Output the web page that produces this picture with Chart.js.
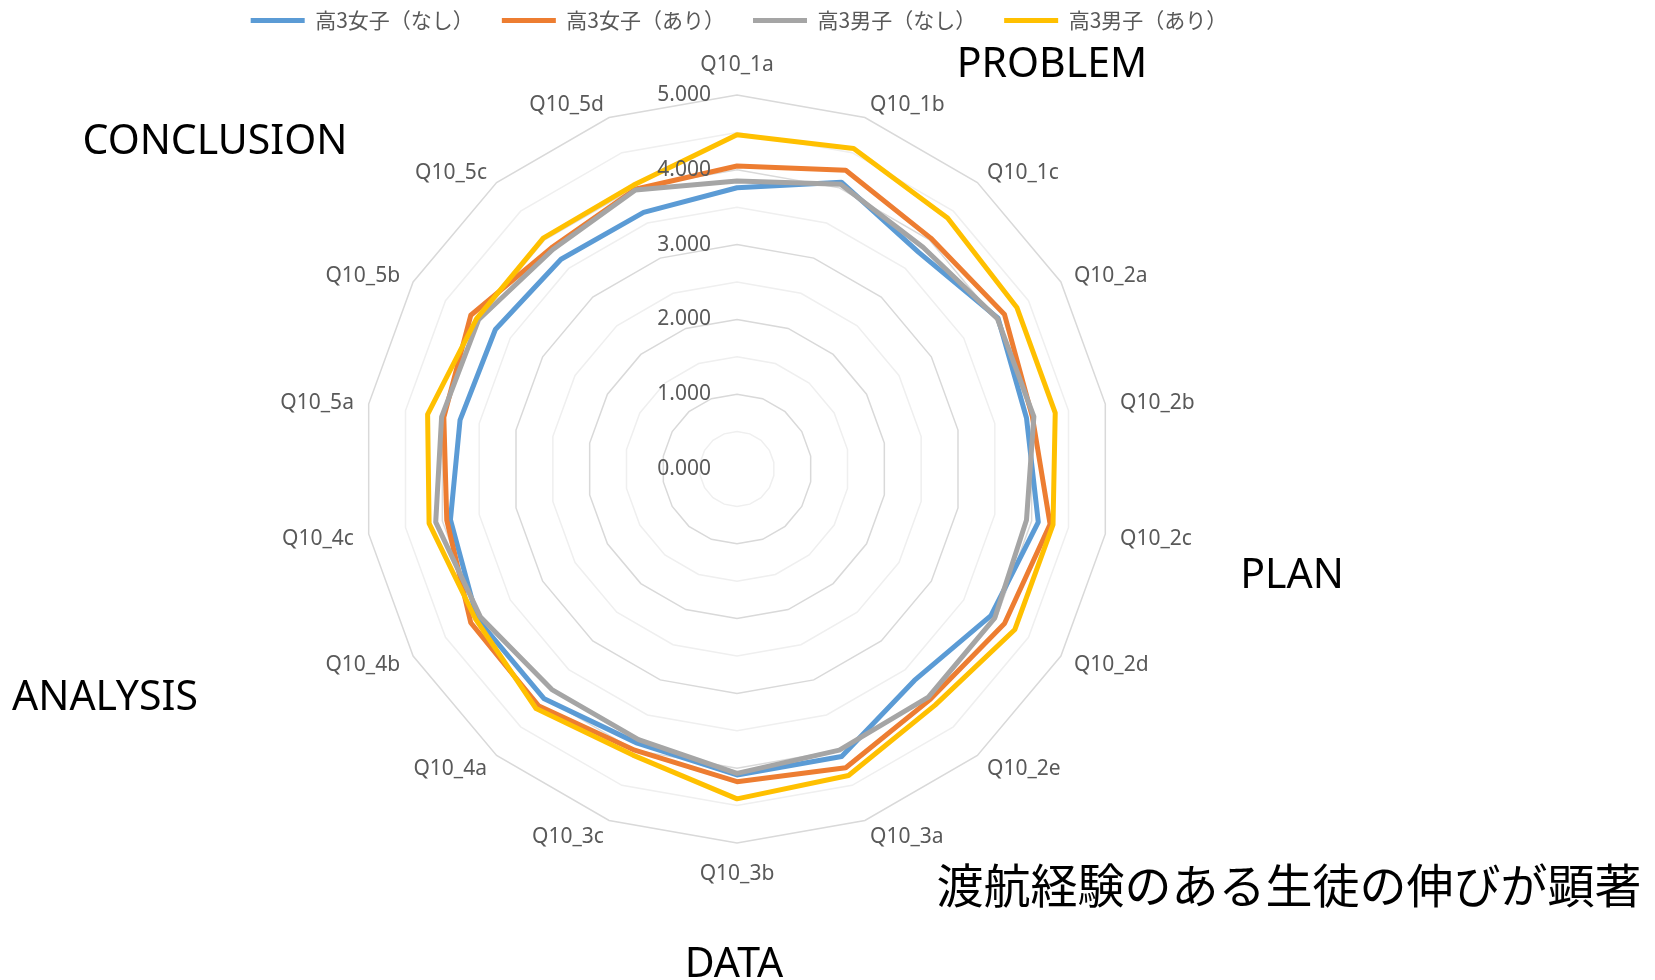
<!DOCTYPE html>
<html lang="ja">
<head>
<meta charset="utf-8">
<title>Q10 レーダーチャート</title>
<script src="https://cdn.jsdelivr.net/npm/chart.js@4.4.1/dist/chart.umd.min.js"></script>
<style>
  html, body { margin: 0; padding: 0; background: #fff; }
  #wrap { width: 1655px; height: 980px; }
</style>
</head>
<body>
<div id="wrap"><canvas id="radarChart" width="1655" height="980"></canvas></div>
<script>
// Eixos (18 perguntas)
const questionLabels = ['Q10_1a', 'Q10_1b', 'Q10_1c', 'Q10_2a', 'Q10_2b', 'Q10_2c', 'Q10_2d', 'Q10_2e',
  'Q10_3a', 'Q10_3b', 'Q10_3c', 'Q10_4a', 'Q10_4b', 'Q10_4c', 'Q10_5a', 'Q10_5b', 'Q10_5c', 'Q10_5d'];

// Valores
const girlsNone   = [3.76, 4.08, 3.78, 4.03, 3.93, 4.09, 3.92, 3.69, 4.09, 4.09, 3.90, 4.01, 4.01, 3.89, 3.76, 3.73, 3.66, 3.65];
const girlsAbroad = [4.05, 4.25, 4.03, 4.13, 4.01, 4.25, 4.13, 4.02, 4.25, 4.18, 4.00, 4.13, 4.11, 3.94, 3.98, 4.11, 3.86, 3.98];
const boysNone    = [3.85, 4.05, 3.87, 4.02, 4.03, 3.93, 3.98, 3.98, 4.00, 4.07, 3.85, 3.85, 3.96, 4.09, 4.01, 3.99, 3.83, 3.97];
const boysAbroad  = [4.47, 4.56, 4.38, 4.32, 4.32, 4.29, 4.29, 4.12, 4.36, 4.41, 4.07, 4.18, 4.03, 4.18, 4.20, 4.02, 4.03, 4.04];

const seriesNames = ['高3女子（なし）', '高3女子（あり）', '高3男子（なし）', '高3男子（あり）'];
const tickValues = [0, 1, 2, 3, 4, 5];

// Textos soltos sobre o gráfico
const stageNotes = ['PROBLEM', 'PLAN', 'DATA', 'ANALYSIS', 'CONCLUSION'];
const summaryNote = '渡航経験のある生徒の伸びが顕著';

const seriesColors = ['#5B9BD5', '#ED7D31', '#A5A5A5', '#FFC000'];
const seriesData = [girlsNone, girlsAbroad, boysNone, boysAbroad];

// Rótulos do eixo e das perguntas, desenhados pela escala
const radarText = {
    id: 'radarText',
    afterDatasetsDraw(chart) {
        const scale = chart.scales.r;
        const ctx = chart.ctx;
        ctx.save();
        ctx.fillStyle = '#595959';
        ctx.font = '21px "Noto Sans"';
        ctx.textBaseline = 'middle';
        ctx.textAlign = 'right';
        tickValues.forEach(v => {
            const y = scale.yCenter - scale.getDistanceFromCenterForValue(v);
            ctx.fillText(v.toFixed(3), scale.xCenter - 26, y);
        });
        questionLabels.forEach((lab, i) => {
            const angle = i * 360 / questionLabels.length;
            let pad = 15;
            let align = angle < 180 ? 'left' : 'right';
            if (angle === 0) { pad = 30; align = 'center'; }
            if (angle === 180) { pad = 31; align = 'center'; }
            const p = scale.getPointPosition(i, scale.drawingArea + pad);
            ctx.textAlign = align;
            ctx.fillText(lab, p.x, p.y + (align === 'center' ? 0 : 2));
        });
        ctx.restore();
    },
    afterDraw(chart) {
        const ctx = chart.ctx;
        const spots = [[1052, 65], [1292, 576], [734, 965], [105, 698], [215, 142]];
        ctx.save();
        ctx.fillStyle = '#000';
        ctx.textAlign = 'center';
        ctx.textBaseline = 'middle';
        ctx.font = '41px "Noto Sans"';
        stageNotes.forEach((t, i) => ctx.fillText(t, spots[i][0], spots[i][1]));
        ctx.font = '47px "Noto Sans CJK JP"';
        ctx.fillText(summaryNote, 1289, 885);
        ctx.restore();
    }
};

const ctx = document.getElementById('radarChart');
new Chart(ctx, {
    type: 'radar',
    data: {
        labels: questionLabels,
        datasets: seriesNames.map((name, i) => ({
            label: name,
            data: seriesData[i],
            borderColor: seriesColors[i],
            backgroundColor: seriesColors[i],
            borderWidth: 5,
            borderJoinStyle: 'round',
            pointRadius: 0,
            pointHoverRadius: 0,
            fill: false,
            order: seriesNames.length - i // o último fica por cima, como no Excel
        }))
    },
    options: {
        responsive: false,
        animation: false,
        layout: { padding: { top: -18, left: 0, right: 177, bottom: 0 } },
        scales: {
            r: {
                min: 0,
                max: 5,
                ticks: { stepSize: 0.5, display: false },
                grid: {
                    circular: false,
                    lineWidth: 1.5,
                    color: c => (c.tick && Number.isInteger(c.tick.value)) ? '#d9d9d9' : '#efefef'
                },
                angleLines: { display: false },
                pointLabels: { display: false },
                afterFit: scale => {
                    // centro e raio iguais aos da figura original
                    scale.xCenter = 737;
                    scale.yCenter = 469;
                    scale.drawingArea = 374;
                }
            }
        },
        plugins: {
            legend: {
                position: 'top',
                labels: {
                    boxWidth: 54,
                    boxHeight: 5,
                    padding: 28,
                    color: '#595959',
                    font: { family: '"Noto Sans CJK JP"', size: 21 },
                    sort: (a, b) => a.datasetIndex - b.datasetIndex,
                    generateLabels: chart => Chart.defaults.plugins.legend.labels.generateLabels(chart)
                        .map(item => Object.assign(item, { lineWidth: 0 }))
                }
            },
            tooltip: { enabled: false }
        }
    },
    plugins: [radarText]
});
</script>
</body>
</html>
